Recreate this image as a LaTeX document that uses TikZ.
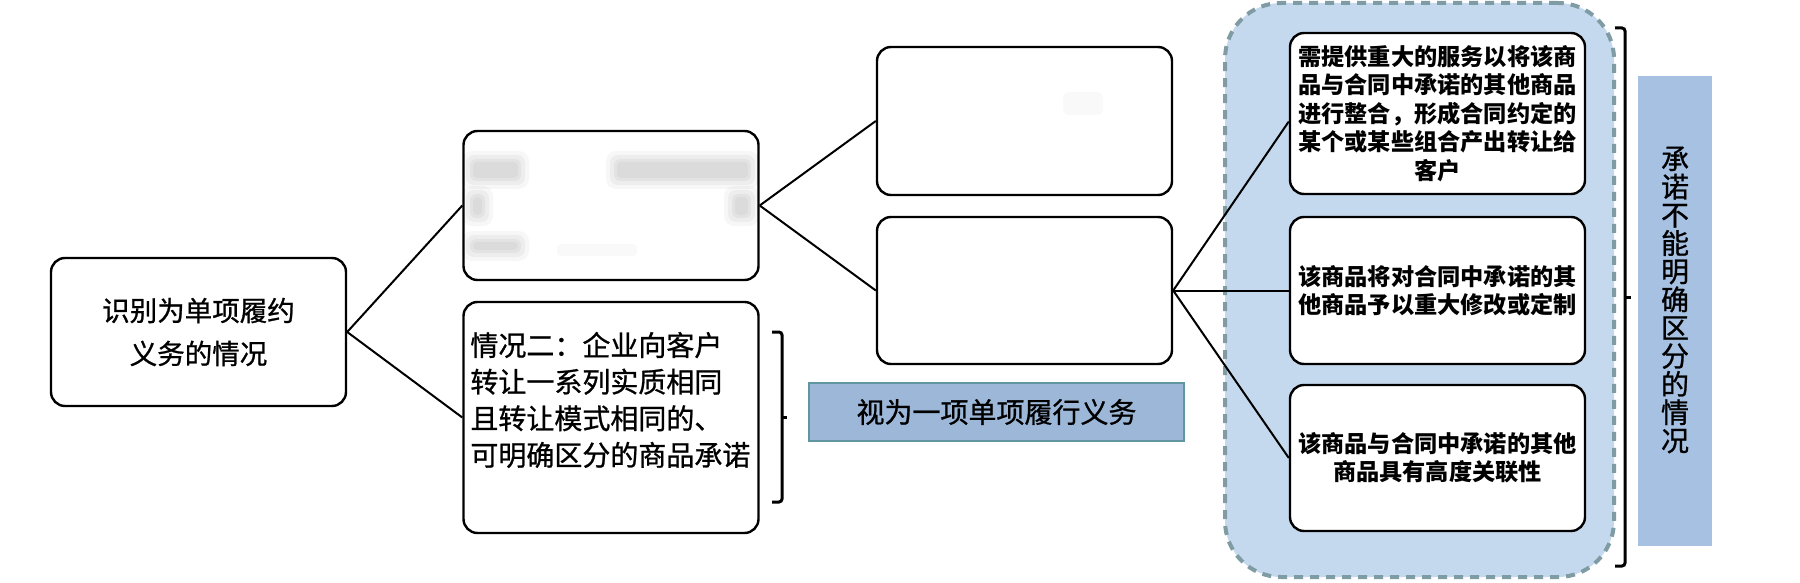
\documentclass[tikz,border=0pt]{standalone}
\usepackage{fontspec}
\setmainfont{Noto Sans CJK SC}
\newfontfamily\heavyfont[FakeBold=0.9]{Noto Sans CJK SC}
\definecolor{contfill}{HTML}{C5D9EE}
\definecolor{dashcol}{HTML}{7F9BA3}
\definecolor{vfill}{HTML}{A6C1E1}
\definecolor{sfill}{HTML}{9DB7D9}
\definecolor{sdraw}{HTML}{5F96A0}
\newcommand\smudgebox[4]{%
  \fill[black, opacity=0.03, rounded corners=5pt] (#1-6,#2-6) rectangle (#3+6,#4+6);
  \fill[black, opacity=0.04, rounded corners=4pt] (#1-2,#2-2) rectangle (#3+2,#4+2);
  \fill[black, opacity=0.04, rounded corners=3pt] (#1+2,#2+2) rectangle (#3-2,#4-2);
  \fill[black, opacity=0.03, rounded corners=2pt] (#1+5,#2+5) rectangle (#3-5,#4-5);}
\begin{document}
\begin{tikzpicture}[x=0.5pt,y=-0.5pt,
  box/.style={draw=black, line width=1.2pt, rounded corners=7pt, fill=white, inner sep=0pt, align=center},
  conn/.style={draw=black, line width=1pt},
  brk/.style={draw=black, line width=1.5pt, rounded corners=1.5pt},
  small/.style={font=\bfseries\fontsize{11.6pt}{14.2pt}\selectfont}
]
\useasboundingbox (0,0) rectangle (1800,583);

% container
\node[draw=dashcol, fill=contfill, line width=2pt, dash pattern=on 4.5pt off 3.5pt,
      rounded corners=28pt, minimum width=194.5pt, minimum height=287pt, inner sep=0pt] (K) at (1419.5,290) {};

% left column
\node[box, minimum width=147.5pt, minimum height=74pt,
      font=\heavyfont\fontsize{13.75pt}{21.5pt}\selectfont] (L) at (198.5,332) {识别为单项履约\\义务的情况};

\node[box, minimum width=147.5pt, minimum height=74.5pt] (A) at (611,205.5) {};
\smudgebox{468}{157}{523}{183}
\smudgebox{612}{157}{753}{183}
\smudgebox{468}{192}{487}{220}
\smudgebox{730}{192}{753}{220}
\smudgebox{468}{237}{523}{255}
\fill[black, opacity=0.025, rounded corners=2pt] (557,244) rectangle (637,256);

\node[box, minimum width=147.5pt, minimum height=115.5pt] (B) at (611,417.5) {};
\node[anchor=west, inner sep=0pt, align=left,
      font=\heavyfont\fontsize{14pt}{18.3pt}\selectfont] (Bt) at (470,400)
  {情况二：企业向客户\\转让一系列实质相同\\且转让模式相同的、\\可明确区分的商品承诺};

\node[box, minimum width=147.5pt, minimum height=74pt] (C) at (1024.5,121) {};
\fill[black, opacity=0.025, rounded corners=3pt] (1063,92) rectangle (1103,115);
\node[box, minimum width=147.5pt, minimum height=73.5pt] (D) at (1024.5,290.5) {};

\node[draw=sdraw, fill=sfill, line width=1.2pt, minimum width=187.5pt, minimum height=29pt,
      inner sep=0pt, font=\heavyfont\fontsize{14pt}{16pt}\selectfont] (V) at (996.5,412) {视为一项单项履行义务};

% right column
\node[box, small, minimum width=147.5pt, minimum height=80.5pt] (E) at (1437.5,113.5)
  {需提供重大的服务以将该商\\品与合同中承诺的其他商品\\进行整合，形成合同约定的\\某个或某些组合产出转让给\\客户};
\node[box, small, minimum width=147.5pt, minimum height=73.5pt] (F) at (1437.5,290.5)
  {该商品将对合同中承诺的其\\他商品予以重大修改或定制};
\node[box, small, minimum width=147.5pt, minimum height=73pt] (G) at (1437.5,458)
  {该商品与合同中承诺的其他\\商品具有高度关联性};

\node[fill=vfill, minimum width=37pt, minimum height=235pt, inner sep=0pt] (R) at (1675,311) {};
\node[align=center, inner sep=0pt, font=\heavyfont\fontsize{14pt}{14.1pt}\selectfont] (Rt) at (1675,300)
  {承\\诺\\不\\能\\明\\确\\区\\分\\的\\情\\况};

% connectors
\draw[conn] (L.east) -- (A.west);
\draw[conn] (L.east) -- (B.west);
\draw[conn] (A.east) -- (C.west);
\draw[conn] (A.east) -- (D.west);
\draw[conn] (D.east) -- ([yshift=-4pt]E.west);
\draw[conn] (D.east) -- (F.west);
\draw[conn] (D.east) -- (G.west);

% brackets
\draw[brk] (772,332) -- (782,332) -- (782,502) -- (772,502);
\draw[brk] (782,417) -- (787,417);
\draw[brk] (1615,28) -- (1625,28) -- (1625,566) -- (1615,566);
\draw[brk] (1625,297) -- (1631,297);
\end{tikzpicture}
\end{document}
